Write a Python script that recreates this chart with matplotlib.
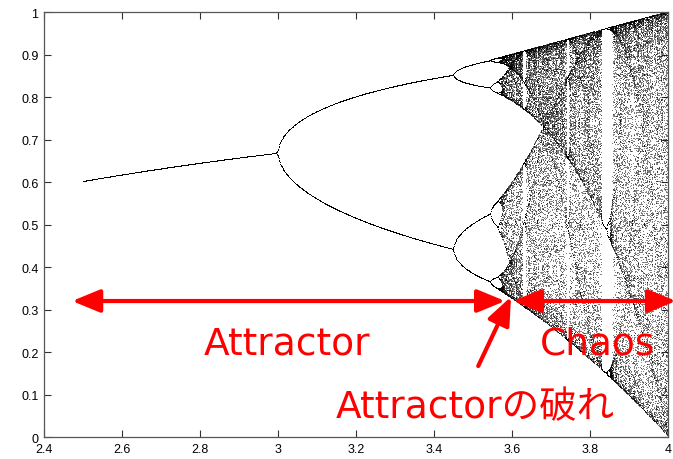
import numpy as np
import matplotlib
matplotlib.use("Agg")
import matplotlib.pyplot as plt

# --- data description (logistic map bifurcation) ---
r_range = [2.5, 4.0]
n_r = 1300
n_transient = 600
n_keep = 100
x_ticks = [2.4, 2.6, 2.8, 3.0, 3.2, 3.4, 3.6, 3.8, 4.0]
x_tick_labels = ["2.4", "2.6", "2.8", "3", "3.2", "3.4", "3.6", "3.8", "4"]
y_ticks = [0, 0.1, 0.2, 0.3, 0.4, 0.5, 0.6, 0.7, 0.8, 0.9, 1.0]
y_tick_labels = ["0", "0.1", "0.2", "0.3", "0.4", "0.5", "0.6", "0.7", "0.8", "0.9", "1"]
arrow_y = 0.32
attractor_span = [2.472, 3.582]
chaos_span = [3.602, 4.02]
labels = ["Attractor", "Chaos", "Attractorの破れ"]

r = np.linspace(r_range[0], r_range[1], n_r)
x = np.full(n_r, 0.5)
for _ in range(n_transient):
    x = r * x * (1 - x)
rs, xs = [], []
for _ in range(n_keep):
    x = r * x * (1 - x)
    rs.append(r.copy())
    xs.append(x.copy())
rs = np.concatenate(rs)
xs = np.concatenate(xs)

fig = plt.figure(figsize=(6.73, 4.6), dpi=100)
ax = fig.add_axes([0.0654, 0.0478, 0.9275, 0.9239])
ax.plot(rs, xs, ",", color="black", alpha=0.5, rasterized=True)

ax.set_xlim(2.4, 4.0)
ax.set_ylim(0, 1)
ax.set_xticks(x_ticks)
ax.set_xticklabels(x_tick_labels)
ax.set_yticks(y_ticks)
ax.set_yticklabels(y_tick_labels)
ax.tick_params(direction="in", length=5, width=0.8, top=True, right=True,
               labelsize=9, colors="#333333", labelcolor="black", pad=4)
for lab in ax.get_xticklabels() + ax.get_yticklabels():
    lab.set_fontfamily("Liberation Sans")
for s in ax.spines.values():
    s.set_color("#555555")
    s.set_linewidth(0.9)

red = "#ff0000"
font = ["DejaVu Sans", "Noto Sans CJK JP"]
aprops = dict(arrowstyle="<|-|>,head_length=1.7,head_width=0.7", color=red, lw=3,
              shrinkA=0, shrinkB=0)
ax.annotate("", xy=(attractor_span[0], arrow_y), xytext=(attractor_span[1], arrow_y),
            arrowprops=aprops, annotation_clip=False)
ax.annotate("", xy=(chaos_span[0], arrow_y), xytext=(chaos_span[1], arrow_y),
            arrowprops=aprops, annotation_clip=False)
ax.annotate("", xy=(3.597, 0.33), xytext=(3.513, 0.167),
            arrowprops=dict(arrowstyle="-|>,head_length=1.7,head_width=0.7", color=red, lw=3,
                            shrinkA=0, shrinkB=0))

ax.text(3.023, 0.219, labels[0], color=red, fontsize=27, family=font, ha="center", va="center")
ax.text(3.818, 0.219, labels[1], color=red, fontsize=27, family=font, ha="center", va="center")
ax.text(3.505, 0.071, labels[2], color=red, fontsize=27, family=font, ha="center", va="center")

fig.savefig("out.png", dpi=100)
